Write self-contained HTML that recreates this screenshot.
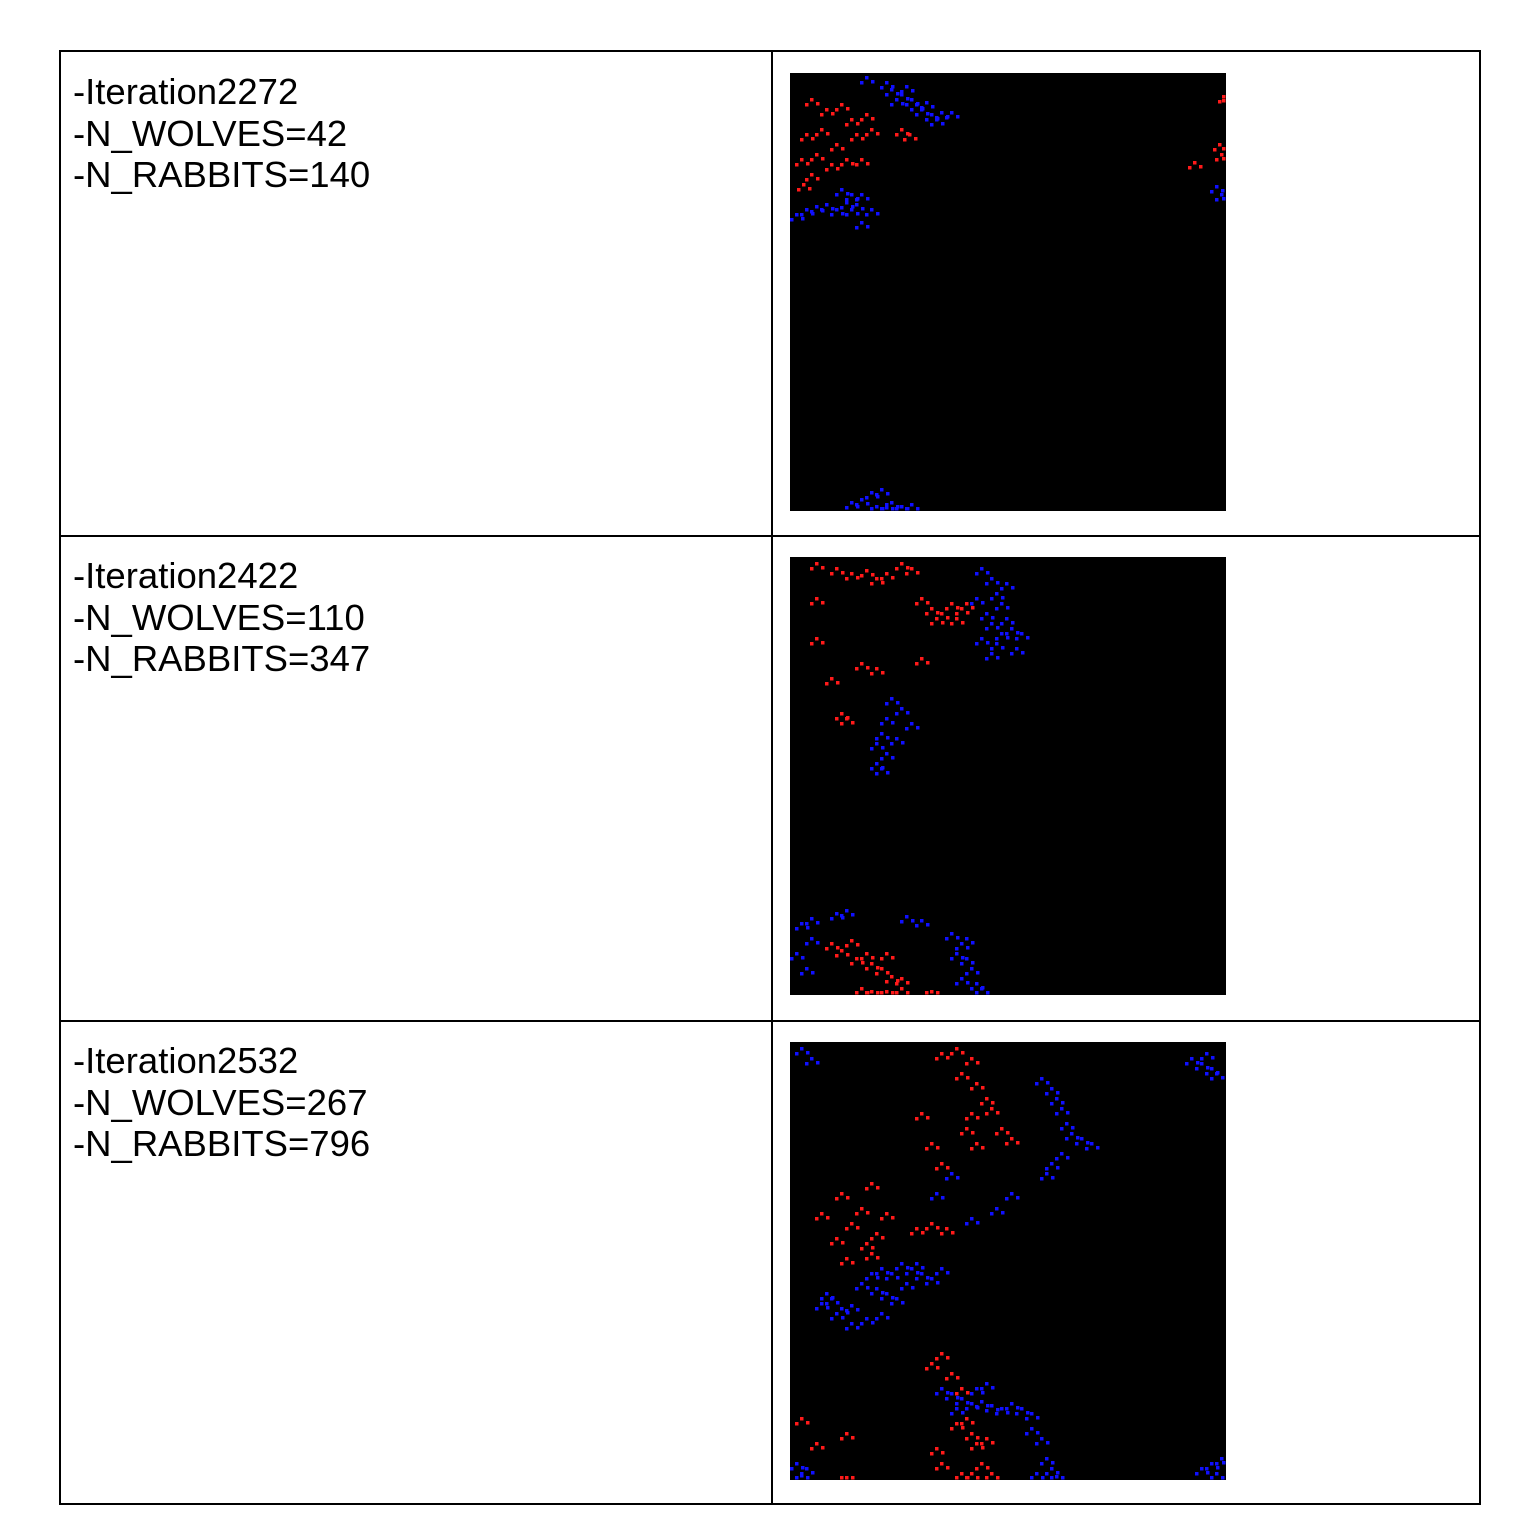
<!DOCTYPE html>
<html><head><meta charset="utf-8">
<style>
body{margin:0;background:#fff;width:1522px;height:1540px;position:relative;font-family:"Liberation Sans",sans-serif;}
.tbl{position:absolute;left:59px;top:50px;width:1418px;height:1451px;border:2px solid #000;}
.hl{position:absolute;left:0;width:1418px;height:2px;background:#000;}
.vl{position:absolute;left:710px;top:0;width:2px;height:1451px;background:#000;}
.txt{position:absolute;left:12px;font-size:36.5px;line-height:41.5px;color:#000;}
svg.p{position:absolute;left:729px;width:436px;height:438px;}
</style></head><body>
<div class="tbl">
<div class="vl"></div>
<div class="hl" style="top:483px"></div>
<div class="hl" style="top:968px"></div>
<div class="txt" style="top:19px">-Iteration2272<br>-N_WOLVES=42<br>-N_RABBITS=140</div>
<div class="txt" style="top:503px">-Iteration2422<br>-N_WOLVES=110<br>-N_RABBITS=347</div>
<div class="txt" style="top:988px">-Iteration2532<br>-N_WOLVES=267<br>-N_RABBITS=796</div>
<svg class="p" id="p0" style="top:21px"></svg>
<svg class="p" id="p1" style="top:505px"></svg>
<svg class="p" id="p2" style="top:990px"></svg>
</div>
<script>
const wolves0=[[20,25],[35,35],[50,30],[60,45],[75,40],[15,60],[30,55],[45,70],[65,60],[80,55],[10,85],[25,80],[40,90],[55,85],[12,110],[20,100],[70,85],[110,55],[118,60],[403,88],[433,22],[430,80],[428,70]];
const rabbits0=[[75,3],[95,8],[100,15],[110,20],[120,25],[125,30],[130,35],[140,40],[145,45],[150,38],[105,25],[115,12],[135,28],[160,38],[5,140],[15,135],[25,132],[35,130],[45,135],[55,128],[60,135],[65,130],[70,120],[80,135],[50,115],[60,120],[70,148],[60,428],[70,425],[80,418],[90,415],[95,430],[85,432],[100,428],[110,432],[120,430],[430,120],[425,112]];
const wolves1=[[25,5],[45,10],[60,15],[75,12],[85,20],[95,15],[110,5],[120,10],[130,40],[140,50],[150,55],[160,45],[165,60],[170,50],[175,45],[145,60],[130,100],[25,80],[40,120],[50,155],[55,160],[70,105],[85,110],[40,385],[50,392],[60,382],[65,400],[75,395],[80,405],[90,410],[95,395],[100,418],[110,420],[70,430],[80,433],[95,433],[110,430],[140,433],[25,40]];
const rabbits1=[[190,10],[200,20],[205,35],[210,45],[195,55],[200,65],[210,75],[190,80],[205,85],[215,60],[220,70],[230,75],[185,40],[200,95],[225,90],[215,25],[100,140],[110,150],[95,160],[90,175],[85,185],[95,195],[85,205],[90,210],[120,165],[105,180],[10,365],[20,360],[45,355],[55,352],[115,358],[130,362],[5,395],[15,410],[20,380],[160,375],[170,385],[165,395],[175,400],[180,410],[185,425],[190,430],[170,420],[175,380]];
const wolves2=[[150,10],[165,5],[180,15],[170,30],[185,40],[195,55],[200,65],[180,70],[175,85],[210,85],[220,95],[185,100],[130,70],[140,100],[150,120],[80,140],[70,165],[50,150],[60,180],[75,200],[85,190],[95,170],[45,195],[55,215],[30,170],[140,180],[155,185],[125,185],[80,210],[10,375],[55,390],[25,400],[140,320],[150,310],[160,330],[170,345],[175,375],[180,390],[185,400],[165,380],[195,395],[190,420],[200,430],[150,420],[170,430],[180,430],[55,440],[145,405]];
const rabbits2=[[10,5],[20,15],[250,35],[260,45],[265,55],[270,65],[275,80],[280,90],[290,95],[270,110],[260,120],[255,130],[300,100],[145,150],[160,130],[205,165],[220,150],[180,175],[30,260],[40,255],[50,265],[60,262],[70,240],[80,230],[90,225],[100,230],[110,220],[120,225],[130,230],[140,235],[150,225],[115,240],[125,220],[85,245],[95,250],[105,255],[35,250],[45,270],[60,280],[75,275],[90,270],[150,345],[160,350],[170,355],[180,360],[190,358],[200,362],[210,365],[220,360],[230,365],[240,370],[165,365],[185,345],[195,340],[240,385],[250,395],[255,415],[260,425],[245,430],[265,433],[5,420],[15,425],[10,432],[400,15],[410,20],[420,25],[415,10],[425,30],[410,425],[420,420],[430,415],[425,430]];
function draw(id,red,blue){
  const s=document.getElementById(id);
  const ns='http://www.w3.org/2000/svg';
  const bg=document.createElementNS(ns,'rect');
  bg.setAttribute('width',436);bg.setAttribute('height',438);bg.setAttribute('fill','#000');
  
  
  s.appendChild(bg);
  function dots(arr,col,name){
    arr.forEach(p=>{
      for(const[dx,dy] of [[0,0],[6,4],[-5,5]]){
        const r=document.createElementNS(ns,'rect');
        r.setAttribute('x',Math.min(432,Math.max(0,p[0]+dx)));r.setAttribute('y',Math.min(434,Math.max(0,p[1]+dy)));
        r.setAttribute('width',3.5);r.setAttribute('height',3.5);r.setAttribute('fill',col);
        
        
        s.appendChild(r);
      }
    });
  }
  dots(red,'#ff1a1a','wolf-dot');
  dots(blue,'#1010ff','rabbit-dot');
}
draw('p0',wolves0,rabbits0);
draw('p1',wolves1,rabbits1);
draw('p2',wolves2,rabbits2);
</script>
</body></html>
